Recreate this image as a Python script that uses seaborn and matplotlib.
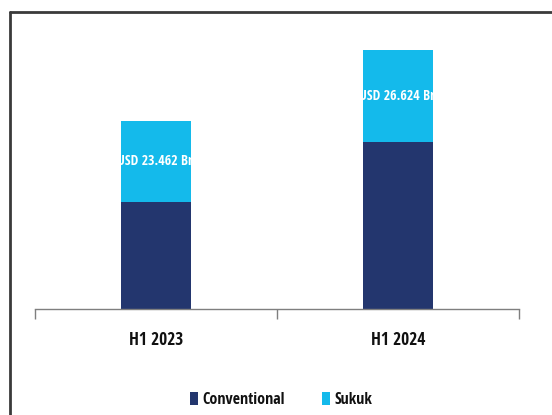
import matplotlib
matplotlib.use("Agg")
import matplotlib.pyplot as plt
from matplotlib.patches import Patch
from matplotlib.lines import Line2D
import seaborn as sns
import pandas as pd

categories = ["H1 2023", "H1 2024"]
conventional = [31.0, 48.3]
sukuk = [23.462, 26.624]
sukuk_labels = ["USD 23.462 Bn", "USD 26.624 Bn"]
series_names = ["Conventional", "Sukuk"]

navy = "#23366E"
cyan = "#14BAEB"

sns.set_style("white")
plt.rcParams["font.family"] = ["Open Sans Condensed", "DejaVu Sans"]

df = pd.DataFrame({"cat": categories, "conv": conventional, "sukuk": sukuk})
df["total"] = df["conv"] + df["sukuk"]

W, H = 552, 415
fig = plt.figure(figsize=(W / 100, H / 100), dpi=100)
ax = fig.add_axes([35 / W, (H - 309) / H, (519 - 35) / W, (309 - 30) / H])

sns.barplot(data=df, x="cat", y="total", color=cyan, saturation=1, width=0.29,
            linewidth=0, edgecolor="none", ax=ax)
sns.barplot(data=df, x="cat", y="conv", color=navy, saturation=1, width=0.29,
            linewidth=0, edgecolor="none", ax=ax)

ax.set_xlim(-0.5, 1.5)
ax.set_ylim(0, 80.8)
ax.set_xlabel("")
ax.set_ylabel("")
ax.set_yticks([])
for s in ["top", "right", "left"]:
    ax.spines[s].set_visible(False)
ax.spines["bottom"].set_color("#7f7f7f")
ax.spines["bottom"].set_linewidth(1.0)

ax.set_xticks([-0.5, 0.5, 1.5])
ax.set_xticklabels([])
ax.set_xticks([0, 1], minor=True)
ax.set_xticklabels(categories, minor=True, fontsize=12.5, fontweight="bold", color="#111111")
ax.tick_params(axis="x", which="major", direction="out", length=7, width=1, color="#7f7f7f", bottom=True)
ax.tick_params(axis="x", which="minor", length=0, pad=16)

sukuk_patches = ax.containers[0]
for i, p in enumerate(sukuk_patches):
    xc = p.get_x() + p.get_width() / 2
    yc = conventional[i] + sukuk[i] / 2
    t = ax.text(xc, yc, sukuk_labels[i], ha="center", va="center", color="white",
                fontsize=10, fontweight="bold")
    t.set_clip_path(p)

handles = [Patch(facecolor=navy, edgecolor="none"), Patch(facecolor=cyan, edgecolor="none")]
fig.legend(handles, series_names, loc="center", bbox_to_anchor=(281 / W, (H - 400) / H),
           ncol=2, frameon=False, handlelength=0.5, handleheight=0.9, handletextpad=0.3,
           columnspacing=2.3, prop={"size": 11.5, "weight": "bold"}, labelcolor="#111111")

fig.add_artist(Line2D([10 / W, 10 / W], [0, (H - 12) / H], transform=fig.transFigure,
                      color="#3a3a3a", linewidth=2.0))
fig.add_artist(Line2D([10 / W, 1.0], [(H - 12) / H, (H - 12) / H], transform=fig.transFigure,
                      color="#3a3a3a", linewidth=2.0))

fig.savefig("out.png", dpi=100)
